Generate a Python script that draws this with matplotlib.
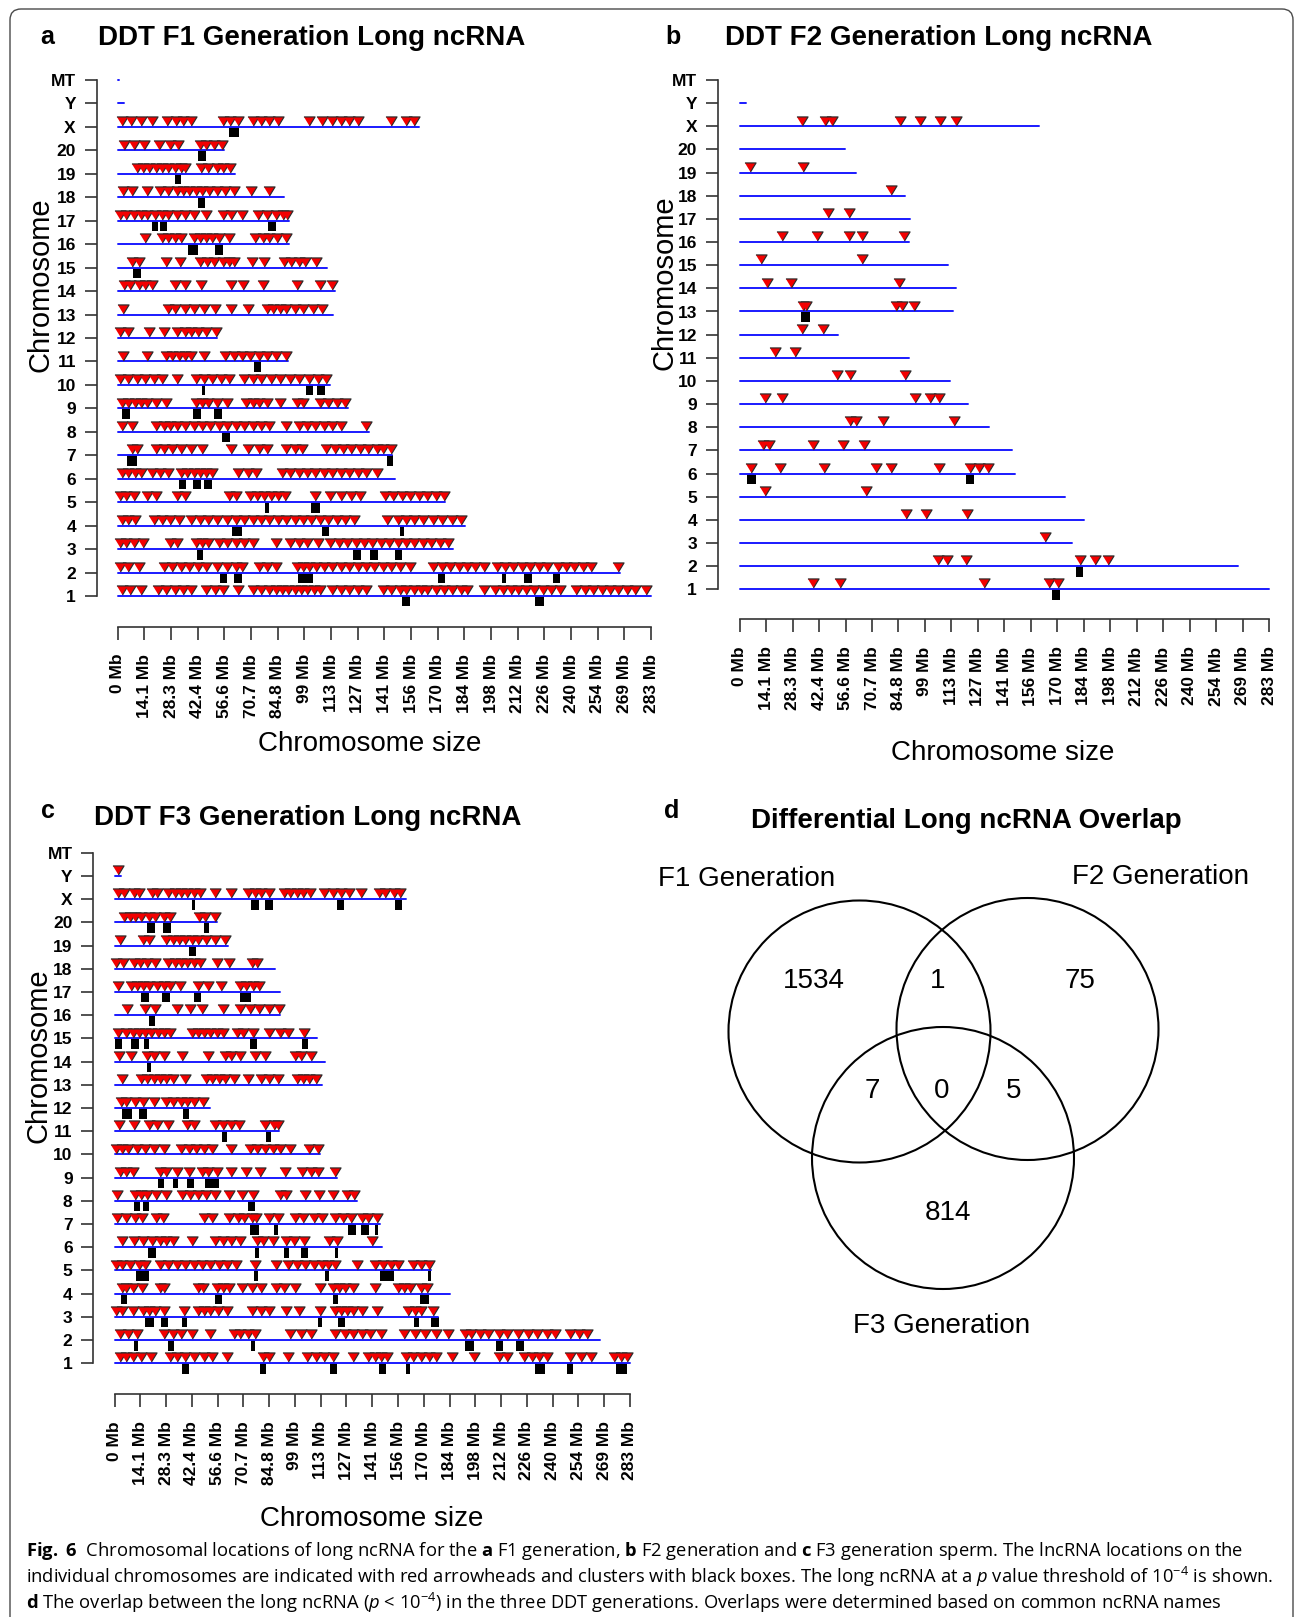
import matplotlib
matplotlib.use("Agg")
import matplotlib.pyplot as plt
from matplotlib import font_manager as fm
from matplotlib.patches import FancyBboxPatch, Circle
from matplotlib.transforms import IdentityTransform

W, H = 1295, 1617

# ---------------------------------------------------------------- data
CHROMS = ["1", "2", "3", "4", "5", "6", "7", "8", "9", "10", "11", "12", "13",
          "14", "15", "16", "17", "18", "19", "20", "X", "Y", "MT"]
CHROM_LEN = [282.8, 266.4, 177.7, 184.2, 173.7, 147.0, 145.7, 133.3, 122.1,
             112.6, 90.5, 52.7, 114.0, 115.5, 111.2, 90.7, 90.8, 88.2, 62.3,
             56.2, 160.0, 3.3, 0.4]

TICK_MB = [0, 14.15, 28.3, 42.45, 56.6, 70.75, 84.9, 99.05, 113.2, 127.35,
           141.5, 155.65, 169.8, 183.95, 198.1, 212.25, 226.4, 240.55, 254.7,
           268.85, 283.0]
TICK_LABELS = ["0 Mb", "14.1 Mb", "28.3 Mb", "42.4 Mb", "56.6 Mb", "70.7 Mb",
               "84.8 Mb", "99 Mb", "113 Mb", "127 Mb", "141 Mb", "156 Mb",
               "170 Mb", "184 Mb", "198 Mb", "212 Mb", "226 Mb", "240 Mb",
               "254 Mb", "269 Mb", "283 Mb"]

# lncRNA positions (Mb) per chromosome, F1 generation
F1_SITES = {
    "1": [2.2, 6.7, 12.3, 21.2, 25.7, 30.1, 34.6, 39.1, 46.9, 51.4, 55.8, 63.6,
          71.5, 75.9, 80.4, 83.7, 87.1, 90.4, 93.8, 97.2, 100.5, 103.9, 107.2,
          113.9, 118.4, 122.8, 127.3, 131.8, 140.7, 145.2, 149.6, 153.0, 157.4,
          160.8, 164.2, 168.6, 173.1, 177.6, 182.0, 185.3, 194.3, 199.9, 204.3,
          208.8, 212.2, 216.6, 221.1, 225.6, 230.0, 234.5, 243.4, 247.9, 252.4,
          256.8, 261.3, 265.7, 270.2, 274.7, 280.3],
    "2": [1.1, 5.6, 11.2, 24.6, 29.0, 33.5, 38.0, 42.4, 46.9, 52.5, 58.1, 62.5,
          65.9, 74.8, 79.3, 83.7, 94.9, 98.3, 101.6, 105.0, 109.4, 113.9, 118.4,
          122.8, 127.3, 131.8, 136.2, 140.7, 145.2, 149.6, 155.2, 167.5, 172.0,
          176.4, 180.9, 185.3, 189.8, 194.3, 201.0, 205.4, 209.9, 214.4, 218.8,
          223.3, 227.8, 233.4, 237.8, 242.3, 246.8, 251.2, 265.7],
    "3": [1.1, 4.5, 8.5, 13.4, 27.9, 31.3, 41.3, 44.7, 48.0, 53.6, 58.1, 62.5,
          67.0, 71.5, 83.7, 91.6, 96.0, 100.5, 106.1, 112.8, 117.3, 121.7, 126.2,
          130.7, 135.1, 139.6, 144.1, 148.5, 153.0, 157.4, 161.9, 166.4, 170.9,
          175.3],
    "4": [2.2, 5.6, 8.9, 19.0, 23.4, 27.9, 32.4, 39.1, 43.5, 48.0, 52.5, 58.1,
          62.5, 67.0, 71.5, 75.9, 80.4, 84.8, 89.3, 93.8, 98.3, 102.7, 107.2,
          111.7, 116.1, 120.6, 125.1, 142.9, 148.5, 153.0, 157.4, 161.9, 167.5,
          172.0, 177.6, 182.0],
    "5": [1.1, 4.5, 8.5, 15.6, 20.5, 31.3, 35.7, 59.2, 62.5, 70.3, 74.1, 77.7,
          81.5, 84.8, 88.9, 104.9, 112.8, 118.4, 124.0, 128.4, 141.8, 146.3,
          150.8, 155.2, 159.7, 164.2, 168.6, 173.1],
    "6": [2.2, 5.6, 8.9, 12.3, 17.9, 22.3, 26.8, 33.5, 36.8, 40.2, 43.5, 46.9,
          50.2, 63.6, 69.2, 73.6, 87.1, 91.6, 96.0, 100.5, 104.9, 109.4, 113.9,
          118.4, 122.8, 127.3, 131.8, 137.3],
    "7": [7.4, 10.0, 20.5, 24.6, 29.0, 33.5, 39.1, 44.7, 60.3, 69.2, 74.8, 79.3,
          89.3, 93.8, 97.8, 110.5, 115.0, 119.5, 123.9, 128.4, 132.9, 137.3,
          140.7, 145.2],
    "8": [2.2, 7.8, 20.1, 24.6, 27.9, 31.3, 35.7, 40.2, 44.7, 49.1, 53.6, 58.1,
          62.5, 67.0, 71.5, 75.9, 80.4, 89.3, 96.0, 100.5, 104.9, 109.4, 113.9,
          118.4, 131.8],
    "9": [2.2, 5.6, 8.9, 12.3, 15.6, 20.1, 25.7, 41.3, 44.7, 48.0, 52.5, 58.1,
          68.1, 71.5, 74.8, 79.3, 86.0, 94.9, 98.3, 107.2, 111.7, 116.1, 120.6],
    "10": [1.1, 5.6, 10.1, 14.5, 19.0, 23.4, 31.3, 41.3, 45.8, 50.2, 54.7, 59.2,
           67.0, 71.5, 75.9, 81.5, 86.0, 91.6, 96.0, 101.6, 106.1, 110.5],
    "11": [2.7, 15.6, 25.7, 29.0, 32.4, 35.7, 39.1, 45.8, 57.0, 61.4, 65.9,
           70.3, 74.8, 79.3, 83.7, 89.3],
    "12": [1.1, 5.6, 16.7, 24.6, 31.3, 35.7, 39.1, 42.4, 46.9, 52.0],
    "13": [2.7, 26.8, 30.1, 35.7, 40.2, 45.8, 51.4, 60.3, 69.2, 79.3, 82.6,
           86.0, 89.3, 93.8, 98.3, 103.8, 108.3],
    "14": [3.4, 6.7, 11.2, 14.5, 18.3, 30.1, 35.7, 44.2, 60.3, 66.5, 77.0, 94.9,
           107.2, 113.9],
    "15": [7.8, 11.2, 25.7, 33.0, 43.5, 47.3, 51.3, 55.8, 59.2, 61.4, 71.0,
           77.7, 88.2, 92.0, 96.0, 99.4, 105.0],
    "16": [14.5, 23.4, 26.8, 30.1, 33.5, 40.2, 43.5, 46.9, 50.2, 53.6, 59.2,
           72.6, 77.0, 80.4, 84.4, 89.0],
    "17": [1.1, 4.5, 8.5, 12.3, 15.6, 19.7, 23.4, 26.8, 31.3, 35.7, 40.2, 46.9,
           55.8, 60.3, 65.9, 74.2, 79.3, 83.7, 87.5, 89.8],
    "18": [2.9, 7.4, 15.6, 22.3, 26.8, 31.3, 34.6, 38.0, 41.3, 44.7, 48.5, 52.5,
           56.9, 61.4, 70.8, 80.4],
    "19": [10.0, 13.4, 16.7, 20.1, 23.4, 26.8, 30.1, 33.5, 35.7, 44.2, 48.0,
           52.5, 55.8, 59.8],
    "20": [3.4, 8.5, 13.8, 21.9, 27.9, 31.7, 43.5, 46.9, 50.9, 55.4],
    "X": [2.2, 7.1, 12.3, 18.3, 26.1, 30.8, 34.6, 39.1, 55.8, 59.8, 63.6, 71.5,
          75.9, 80.4, 84.8, 101.6, 108.3, 113.9, 118.4, 122.8, 127.3, 145.2,
          153.0, 157.4],
}
# lncRNA clusters (start, end in Mb), F1 generation
F1_CLUSTERS = {
    "1": [(150.7, 155.2), (221.5, 226.0)],
    "2": [(54.0, 58.1), (61.6, 65.9), (95.6, 103.8), (169.7, 173.7),
          (203.9, 206.1), (215.7, 220.0), (230.7, 234.9)],
    "3": [(41.8, 45.3), (124.6, 129.1), (134.0, 138.0), (146.9, 150.7)],
    "4": [(60.7, 65.9), (108.3, 112.1), (149.6, 151.9)],
    "5": [(78.2, 80.0), (102.3, 107.2)],
    "6": [(32.4, 36.4), (39.8, 44.0), (45.8, 49.8)],
    "7": [(5.1, 10.0), (142.9, 146.3)],
    "8": [(55.4, 59.6)],
    "9": [(2.2, 6.3), (39.8, 44.0), (50.9, 55.2)],
    "10": [(44.7, 46.2), (99.8, 103.8), (105.6, 110.1)],
    "11": [(72.1, 75.9)],
    "15": [(8.0, 12.3)],
    "16": [(37.5, 42.4), (51.6, 55.8)],
    "17": [(17.9, 21.2), (22.3, 25.9), (79.7, 83.7)],
    "18": [(42.7, 46.2)],
    "19": [(30.6, 33.5)],
    "20": [(42.4, 46.9)],
    "X": [(59.2, 64.3)],
}

# F2 generation
F2_SITES = {
    "1": [39.4, 53.8, 130.4, 165.3, 170.2],
    "2": [105.9, 110.8, 120.9, 181.8, 190.0, 197.0],
    "3": [163.3],
    "4": [89.0, 99.4, 121.4],
    "5": [13.6, 67.5],
    "6": [5.9, 21.5, 45.0, 72.7, 81.1, 106.8, 123.1, 127.9, 133.0],
    "7": [12.5, 15.4, 39.4, 55.0, 66.6],
    "8": [59.1, 62.0, 76.7, 114.8],
    "9": [13.6, 22.4, 93.9, 101.6, 106.6],
    "10": [52.1, 59.1, 88.4],
    "11": [19.1, 29.4],
    "12": [33.4, 44.4],
    "13": [34.1, 35.6, 83.6, 86.7, 93.3],
    "14": [14.7, 27.3, 85.1],
    "15": [11.4, 65.3],
    "16": [22.4, 41.1, 58.5, 65.5, 87.7],
    "17": [47.0, 58.5],
    "18": [80.7],
    "19": [5.5, 34.1],
    "X": [33.4, 45.5, 49.2, 85.7, 96.5, 107.1, 115.4],
}
F2_CLUSTERS = {
    "1": [(167.1, 171.5)],
    "2": [(179.6, 183.6)],
    "6": [(3.7, 8.6), (120.9, 125.3)],
    "13": [(33.0, 37.4)],
}

# F3 generation
F3_SITES = {
    "1": [3.0, 6.5, 10.0, 14.6, 20.3, 30.7, 34.2, 38.8, 43.4, 49.2, 53.8, 61.9,
          81.5, 85.0, 95.4, 105.8, 110.4, 115.0, 119.7, 131.2, 139.3, 142.8,
          146.2, 149.7, 160.1, 163.6, 168.2, 172.8, 176.3, 185.5, 197.1, 210.9,
          215.5, 224.8, 229.4, 232.8, 237.5, 250.2, 256.0, 261.7, 274.4, 277.9,
          281.3],
    "2": [3.0, 7.6, 12.2, 27.3, 31.9, 36.5, 42.3, 52.7, 65.4, 68.8, 73.5, 76.9,
          96.6, 102.3, 108.1, 120.8, 126.6, 131.2, 135.8, 140.4, 146.2, 158.9,
          164.7, 170.5, 176.3, 183.2, 192.4, 195.9, 200.5, 205.1, 210.9, 215.5,
          221.3, 227.1, 231.7, 237.5, 242.1, 250.2, 254.8, 259.4],
    "3": [0.7, 4.2, 10.0, 15.7, 19.2, 22.2, 27.3, 38.3, 45.7, 49.2, 52.7, 56.8,
          61.9, 75.3, 80.4, 85.0, 94.3, 101.2, 112.7, 120.8, 124.3, 127.8,
          131.2, 135.8, 143.9, 161.3, 164.7, 168.2, 175.1],
    "4": [4.2, 6.5, 10.0, 15.3, 24.9, 27.3, 45.7, 48.7, 56.1, 59.6, 63.1, 70.0,
          75.3, 80.4, 88.5, 93.1, 98.9, 112.7, 119.7, 123.1, 126.6, 131.2,
          142.8, 155.5, 159.0, 162.4, 168.2, 171.7],
    "5": [0.7, 4.2, 8.3, 13.4, 16.9, 24.9, 29.6, 34.2, 38.8, 43.4, 48.0, 52.7,
          57.3, 61.9, 66.5, 76.9, 88.5, 95.4, 100.0, 104.7, 109.3, 113.9, 117.3,
          120.8, 133.1, 142.8, 147.4, 152.0, 155.5, 163.6, 168.2, 172.8],
    "6": [4.2, 10.6, 15.7, 20.8, 25.0, 28.4, 31.9, 42.3, 55.0, 59.6, 64.2, 68.8,
          78.1, 81.5, 86.9, 94.3, 98.4, 104.0, 117.8, 121.9, 141.6],
    "7": [1.4, 6.5, 11.1, 15.3, 22.6, 26.8, 49.2, 53.8, 63.1, 67.7, 71.2, 75.3,
          77.6, 85.0, 89.6, 98.9, 103.5, 109.3, 113.9, 120.8, 125.4, 130.1,
          135.8, 139.3, 143.9],
    "8": [1.4, 11.1, 14.6, 18.0, 22.6, 28.4, 37.2, 41.6, 45.7, 50.4, 55.0, 63.1,
          70.0, 75.8, 90.8, 94.3, 104.7, 112.3, 119.7, 127.8, 131.3],
    "9": [3.0, 6.5, 10.0, 25.0, 28.4, 34.2, 41.1, 48.0, 51.5, 56.1, 64.2, 72.3,
          79.9, 93.8, 103.0, 108.1, 111.6, 120.8],
    "10": [0.7, 4.2, 7.6, 12.2, 16.9, 21.5, 27.3, 36.5, 40.7, 44.6, 49.2, 53.8,
           63.8, 74.6, 78.5, 82.7, 86.9, 90.8, 96.6, 107.0, 111.5],
    "11": [2.3, 10.6, 19.2, 23.1, 29.1, 40.0, 43.9, 55.0, 59.6, 63.8, 68.4,
           82.7, 87.3, 89.8],
    "12": [3.7, 6.5, 11.1, 15.7, 21.5, 28.4, 31.9, 36.5, 40.0, 43.4, 48.5],
    "13": [4.2, 14.6, 18.0, 21.5, 24.9, 28.4, 31.9, 38.8, 50.4, 53.8, 57.3,
           60.8, 65.4, 73.5, 80.4, 85.0, 89.6, 100.0, 103.5, 106.9, 110.4],
    "14": [2.5, 8.8, 18.0, 21.5, 27.3, 37.2, 51.5, 60.8, 64.2, 68.8, 76.9, 82.7,
           98.9, 102.3, 108.1],
    "15": [1.8, 6.5, 10.0, 13.4, 16.9, 20.3, 23.8, 27.3, 30.7, 42.3, 45.7, 49.2,
           52.7, 56.1, 59.6, 67.0, 70.4, 76.2, 85.0, 90.8, 95.4, 104.0],
    "16": [6.9, 16.9, 22.2, 34.2, 41.6, 48.0, 59.6, 68.8, 74.6, 79.2, 85.0, 90.1],
    "17": [1.8, 8.8, 12.2, 15.7, 19.2, 23.1, 27.3, 30.7, 36.0, 45.7, 51.5, 58.4,
           68.8, 72.3, 75.8, 79.2],
    "18": [0.7, 4.6, 10.6, 14.1, 18.0, 22.2, 29.6, 33.0, 36.5, 40.0, 43.4, 46.9,
           56.1, 63.1, 75.3, 78.1],
    "19": [3.0, 15.7, 19.2, 28.4, 31.9, 35.3, 38.8, 42.3, 45.7, 50.4, 55.0, 60.8],
    "20": [5.3, 8.3, 11.1, 14.6, 19.2, 22.2, 27.3, 30.7, 46.2, 49.9, 55.4],
    "X": [1.8, 5.3, 10.6, 13.4, 20.8, 23.1, 29.6, 33.0, 36.5, 40.0, 43.4, 46.9,
          55.0, 64.2, 73.5, 76.9, 80.4, 85.0, 93.1, 96.6, 100.0, 103.5, 107.6,
          115.0, 119.7, 124.3, 128.9, 135.4, 145.1, 148.5, 153.2, 156.6],
    "Y": [1.8],
}
F3_CLUSTERS = {
    "1": [(37.2, 40.7), (79.7, 83.4), (118.5, 122.0), (145.1, 149.0),
          (160.1, 162.4), (231.0, 236.3), (248.6, 251.8), (275.1, 281.3)],
    "2": [(10.6, 12.9), (29.1, 32.8), (75.1, 76.9), (192.4, 197.5),
          (209.7, 213.2), (220.6, 224.8)],
    "3": [(16.9, 21.5), (25.6, 29.6), (37.0, 40.0), (111.6, 113.9),
          (122.7, 126.6), (164.2, 167.0), (173.9, 177.9)],
    "4": [(3.7, 6.9), (55.0, 59.1), (119.7, 122.7), (167.7, 172.8)],
    "5": [(11.6, 19.2), (76.5, 78.8), (115.7, 118.0), (145.8, 153.2),
          (172.1, 173.5)],
    "6": [(18.5, 22.6), (76.9, 79.2), (93.1, 95.9), (102.3, 106.3),
          (120.8, 122.7)],
    "7": [(74.6, 79.2), (87.3, 89.6), (128.4, 132.4), (135.4, 139.8),
          (142.8, 144.6)],
    "8": [(10.6, 13.9), (15.7, 18.7), (73.5, 76.9)],
    "9": [(23.8, 27.3), (31.9, 34.9), (40.0, 43.9), (49.9, 57.3)],
    "11": [(59.1, 61.9), (83.2, 85.7)],
    "12": [(4.2, 9.5), (13.4, 17.6), (37.7, 40.7)],
    "14": [(18.0, 20.3)],
    "15": [(0.0, 4.2), (8.8, 13.4), (16.2, 19.2), (74.6, 78.5), (102.8, 106.5)],
    "16": [(19.2, 22.2)],
    "17": [(14.6, 19.2), (26.1, 30.3), (43.4, 47.6), (68.8, 75.1)],
    "19": [(40.7, 44.6)],
    "20": [(18.0, 22.2), (26.8, 31.0), (49.4, 52.0)],
    "X": [(42.3, 44.1), (75.1, 79.2), (82.7, 86.9), (122.0, 126.1),
          (153.8, 157.8)],
}

VENN_SETS = ["F1 Generation", "F2 Generation", "F3 Generation"]
VENN_REGIONS = ["F1 only", "F1&F2", "F2 only", "F1&F3", "all", "F2&F3", "F3 only"]
VENN_COUNTS = [1534, 1, 75, 7, 0, 5, 814]

CAPTION = [
    r"$\mathbf{Fig.\ 6}$  Chromosomal locations of long ncRNA for the "
    r"$\mathbf{a}$ F1 generation, $\mathbf{b}$ F2 generation and "
    r"$\mathbf{c}$ F3 generation sperm. The lncRNA locations on the",
    r"individual chromosomes are indicated with red arrowheads and clusters "
    r"with black boxes. The long ncRNA at a $p$ value threshold of "
    r"$10^{-4}$ is shown.",
    r"$\mathbf{d}$ The overlap between the long ncRNA ($p$ < $10^{-4}$) in "
    r"the three DDT generations. Overlaps were determined based on common "
    r"ncRNA names",
]

# ---------------------------------------------------------------- style
plt.rcParams["font.family"] = ["Liberation Sans", "DejaVu Sans"]
names = {f.name for f in fm.fontManager.ttflist}
CAP_FAMILY = next((n for n in ["Liberation Sans Narrow", "Open Sans",
                               "Liberation Sans"] if n in names), "DejaVu Sans")
plt.rcParams["mathtext.fontset"] = "custom"
plt.rcParams["mathtext.rm"] = CAP_FAMILY
plt.rcParams["mathtext.it"] = CAP_FAMILY + ":italic"
plt.rcParams["mathtext.bf"] = CAP_FAMILY + ":bold"

BLUE = "#1a1aff"
RED = "#f20000"
AXC = "#333333"
TRI = [(-1.0, 0.82), (1.0, 0.82), (0.0, -0.82)]

fig = plt.figure(figsize=(W / 100, H / 100), dpi=100)


def fx(x):
    return x / W


def fy(y):
    return 1 - y / H


def chrom_panel(sites, clusters, x0, x283, y1, y23, yaxis_x, xaxis_y):
    mbpx = (x283 - x0) / 283.0
    rowpx = (y1 - y23) / 22.0
    xl = (-25.0, 300.0)
    yl = (-0.8, 23.6)
    left = x0 + xl[0] * mbpx
    right = x0 + xl[1] * mbpx
    bottom = y1 + (1 - yl[0]) * rowpx
    top = y23 - (yl[1] - 23) * rowpx
    ax = fig.add_axes([fx(left), fy(bottom), (right - left) / W,
                       (bottom - top) / H])
    ax.set_xlim(xl)
    ax.set_ylim(yl)
    ax.patch.set_visible(False)

    tri_off = 5.8 / rowpx
    box_h = 10.5 / rowpx
    for i, (name, length) in enumerate(zip(CHROMS, CHROM_LEN)):
        row = i + 1
        ax.plot([0, length], [row, row], color=BLUE, lw=1.4,
                solid_capstyle="round", zorder=2)
        spans = clusters.get(name, [])
        if spans:
            ax.bar(x=[s for s, e in spans], height=box_h,
                   width=[e - s for s, e in spans], bottom=row - box_h,
                   align="edge", color="black", lw=0, zorder=1)
        xs = sites.get(name, [])
        if xs:
            ax.plot(xs, [row + tri_off] * len(xs), ls="none", marker=TRI,
                    ms=8.0, mfc=RED, mec="#2b2b2b", mew=0.85, zorder=3)

    for s in ("top", "right"):
        ax.spines[s].set_visible(False)
    ax.spines["left"].set_position(("data", (yaxis_x - x0) / mbpx))
    ax.spines["left"].set_bounds(1, 23)
    ax.spines["bottom"].set_position(("data", 1 - (xaxis_y - y1) / rowpx))
    ax.spines["bottom"].set_bounds(0, 283)
    for s in ("left", "bottom"):
        ax.spines[s].set_color(AXC)
        ax.spines[s].set_linewidth(1.2)

    ax.set_yticks(range(1, 24))
    ax.set_yticklabels(CHROMS, fontweight="bold", fontsize=12.5)
    ax.set_xticks(TICK_MB)
    ax.set_xticklabels(TICK_LABELS, rotation=90, va="top", ha="center",
                       fontweight="bold", fontsize=12.5)
    ax.tick_params(axis="y", length=9, width=1.2, color=AXC, pad=6.0)
    ax.tick_params(axis="x", length=9, width=1.2, color=AXC, pad=10.5)
    return ax


# panel a
chrom_panel(F1_SITES, F1_CLUSTERS, 117.8, 651.1, 596.0, 80.0, 96.8, 626.7)
# panel b
chrom_panel(F2_SITES, F2_CLUSTERS, 739.7, 1269.0, 589.3, 80.0, 717.9, 619.3)
# panel c
chrom_panel(F3_SITES, F3_CLUSTERS, 114.5, 630.0, 1363.3, 852.7, 93.4, 1394.0)

# panel letters and titles
for letter, (lx, ly) in zip("abcd", [(47, 37), (673, 37), (48, 811), (672, 811)]):
    fig.text(fx(lx), fy(ly), letter, fontsize=18, fontweight="bold",
             ha="center", va="center")
for title, (tx, ty) in zip(["DDT F1 Generation Long ncRNA",
                            "DDT F2 Generation Long ncRNA",
                            "DDT F3 Generation Long ncRNA"],
                           [(98, 38), (725, 38), (94, 818)]):
    fig.text(fx(tx), fy(ty), title, fontsize=20, fontweight="bold",
             ha="left", va="center")
fig.text(fx(966), fy(821), "Differential Long ncRNA Overlap", fontsize=20,
         fontweight="bold", ha="center", va="center")

for (cx, cy) in [(41, 285), (665, 283), (39, 1056)]:
    fig.text(fx(cx), fy(cy), "Chromosome", fontsize=21, rotation=90,
             ha="center", va="center")
for (cx, cy) in [(370, 744), (1003, 753), (372, 1519)]:
    fig.text(fx(cx), fy(cy), "Chromosome size", fontsize=20,
             ha="center", va="center")

# panel d: Venn diagram in pixel units
vx0, vx1, vy0, vy1 = 640, 1290, 850, 1350
vax = fig.add_axes([fx(vx0), fy(vy1), (vx1 - vx0) / W, (vy1 - vy0) / H])
vax.set_xlim(vx0, vx1)
vax.set_ylim(vy1, vy0)
vax.axis("off")
for (cx, cy) in [(859.5, 1031.5), (1027.5, 1029.0), (943.0, 1158.0)]:
    vax.add_patch(Circle((cx, cy), 131, fill=False, ec="black", lw=1.5))
for name, (lx, ly) in zip(VENN_SETS, [(746.5, 878.5), (1160, 877),
                                      (942, 1326)]):
    vax.text(lx, ly, name, fontsize=20, ha="center", va="center")
for count, (nx, ny) in zip(VENN_COUNTS, [(813.5, 981.5), (938, 981.5),
                                         (1080.5, 981.5), (872, 1091),
                                         (942, 1091), (1013.5, 1091),
                                         (948.5, 1212.5)]):
    vax.text(nx, ny, str(count), fontsize=20, ha="center", va="center")

# caption, sized so the first line spans the frame width
cap = [fig.text(fx(26), fy(b), s, fontsize=14, family=CAP_FAMILY,
                ha="left", va="baseline")
       for s, b in zip(CAPTION, [1556, 1583, 1609])]
renderer = fig.canvas.get_renderer()
w0 = cap[0].get_window_extent(renderer=renderer).width
for t in cap:
    t.set_fontsize(14 * 1217.0 / w0)

# rounded frame around the figure
frame = FancyBboxPatch((10, -200), 1283, H - 9 + 200,
                       boxstyle="round,pad=0,rounding_size=11",
                       transform=IdentityTransform(), fill=False,
                       ec="#4a4a4a", lw=1.0)
fig.add_artist(frame)

fig.savefig("out.png", dpi=100)
